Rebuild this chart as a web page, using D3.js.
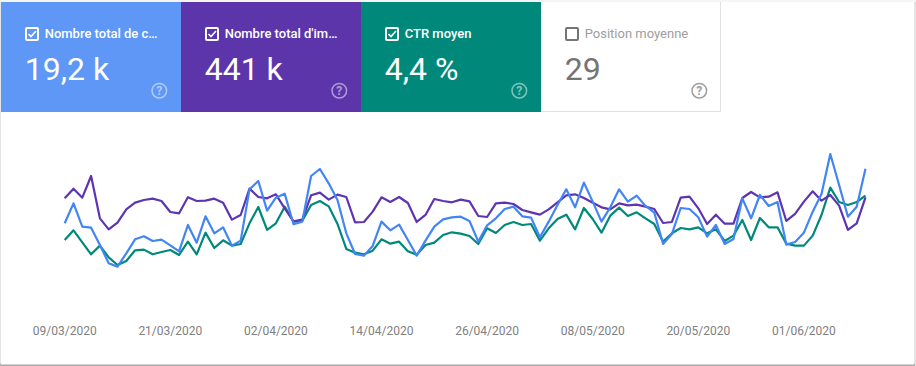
<!DOCTYPE html>
<html>
<head>
<meta charset="utf-8">
<script src="https://cdn.jsdelivr.net/npm/d3@7"></script>
<style>
  html, body { margin: 0; padding: 0; background: #f5f5f5; overflow: hidden; }
  svg { display: block; font-family: Roboto, sans-serif; }
</style>
</head>
<body>
<svg id="chart" width="916" height="366"></svg>
<script>
// Scorecards
const tileLabels = ['Nombre total de c…', "Nombre total d'im…", 'CTR moyen', 'Position moyenne'];
const tileValues = ['19,2 k', '441 k', '4,4 %', '29'];
const tileColors = ['#5e97f6', '#5c35ab', '#00897b', '#fff'];
const tileActive = [true, true, true, false];

// The source has no y axis, so values are relative heights read off the picture
const clicks = [180, 240, 170, 167, 115, 60, 50, 90, 132, 141, 127, 131, 114, 96, 175, 122, 201, 150, 168, 113, 128, 282, 307, 218,
  257, 269, 177, 185, 322, 343, 300, 250, 150, 88, 83, 112, 185, 159, 176, 130, 83, 128, 170, 192, 198, 200, 187, 125,
  174, 195, 223, 230, 201, 197, 138, 185, 235, 282, 228, 302, 245, 185, 228, 282, 245, 263, 232, 212, 118, 148,
  226, 223, 198, 140, 175, 118, 133, 255, 195, 265, 232, 244, 116, 124, 152, 215, 268, 388, 295, 200, 230, 344];
const impressions = [255, 284, 257, 322, 195, 162, 182, 222, 242, 250, 254, 247, 214, 210, 258, 247, 248, 254, 242, 191, 205, 284, 259, 255,
  267, 225, 186, 191, 264, 272, 251, 266, 259, 183, 184, 215, 258, 244, 259, 241, 184, 205, 253, 247, 243, 251, 246, 202,
  199, 240, 242, 238, 220, 213, 206, 222, 243, 264, 267, 256, 242, 228, 222, 240, 234, 236, 230, 223, 181, 184,
  257, 260, 225, 178, 206, 179, 179, 256, 274, 258, 260, 273, 187, 208, 245, 276, 248, 265, 233, 160, 180, 258];
const ctr = [130, 159, 123, 87, 113, 78, 55, 67, 99, 101, 87, 94, 100, 85, 125, 87, 152, 106, 129, 113, 118, 180, 229, 160,
  180, 230, 185, 188, 235, 247, 231, 178, 103, 92, 87, 98, 132, 119, 125, 96, 86, 115, 122, 145, 153, 149, 142, 118,
  165, 151, 175, 184, 175, 178, 128, 165, 193, 206, 162, 226, 193, 152, 203, 227, 202, 213, 195, 178, 125, 150,
  166, 162, 168, 150, 162, 127, 143, 190, 130, 196, 168, 168, 119, 113, 113, 143, 205, 287, 244, 235, 244, 263];

const tickLabels = ['09/03/2020', '21/03/2020', '02/04/2020', '14/04/2020', '26/04/2020', '08/05/2020', '20/05/2020', '01/06/2020'];
const firstDay = '09/03/2020';
const lastDay = '08/06/2020';

const parseDay = d3.utcParse('%d/%m/%Y');
const formatDay = d3.utcFormat('%d/%m/%Y');

const svg = d3.select('#chart');

// Card with its soft shadow: light on the sides, darker along the bottom
svg.append('rect')
  .attr('x', 0).attr('y', 2).attr('width', 916).attr('height', 364)
  .attr('fill', '#e4e4e4');
svg.append('rect')
  .attr('x', 0).attr('y', 363).attr('width', 915).attr('height', 3)
  .attr('rx', 1.5)
  .attr('fill', '#a8a8a8');
svg.append('rect')
  .attr('x', 1).attr('y', 2).attr('width', 913).attr('height', 362.5)
  .attr('fill', '#fff');

// Tiles
const tileX = d3.scaleBand().domain(d3.range(tileLabels.length)).range([1, 721]);
const tiles = svg.selectAll('g.tile')
  .data(tileLabels)
  .enter()
  .append('g')
  .attr('class', 'tile')
  .attr('transform', (d, i) => `translate(${tileX(i)}, 2)`);

tiles.append('rect')
  .attr('width', tileX.bandwidth())
  .attr('height', 110)
  .attr('fill', (d, i) => tileColors[i]);

// Inactive tile only gets a thin border on the right and bottom
tiles.filter((d, i) => !tileActive[i]).append('path')
  .attr('d', `M${tileX.bandwidth() - 0.5},0V109.5H0`)
  .attr('fill', 'none')
  .attr('stroke', '#e0e0e0');

const fg = i => tileActive[i] ? '#fff' : '#757575';

tiles.append('rect')
  .attr('x', 25).attr('y', 26)
  .attr('width', 12).attr('height', 12)
  .attr('rx', 1)
  .attr('fill', 'none')
  .attr('stroke', (d, i) => fg(i))
  .attr('stroke-width', 2);

tiles.filter((d, i) => tileActive[i]).append('path')
  .attr('d', 'M27.5,32l2.5,2.5l5,-5.5')
  .attr('fill', 'none')
  .attr('stroke', '#fff')
  .attr('stroke-width', 1.6);

tiles.append('text')
  .attr('x', 43.7).attr('y', 36)
  .attr('font-size', 13)
  .attr('font-weight', (d, i) => tileActive[i] ? 500 : 400)
  .attr('fill', (d, i) => tileActive[i] ? '#fff' : '#9e9e9e')
  .text(d => d);

tiles.append('text')
  .attr('x', 23.7).attr('y', 78)
  .attr('font-size', 32)
  .attr('fill', (d, i) => fg(i))
  .text((d, i) => tileValues[i]);

tiles.append('circle')
  .attr('cx', 158.3).attr('cy', 88.7)
  .attr('r', 7.3)
  .attr('fill', 'none')
  .attr('stroke', (d, i) => fg(i))
  .attr('stroke-width', 1.5)
  .attr('opacity', (d, i) => tileActive[i] ? 0.5 : 0.7);

tiles.append('text')
  .attr('x', 158.3).attr('y', 93)
  .attr('text-anchor', 'middle')
  .attr('font-size', 12)
  .attr('font-weight', 700)
  .attr('fill', (d, i) => fg(i))
  .attr('opacity', (d, i) => tileActive[i] ? 0.5 : 0.7)
  .text('?');

// Scales
const x = d3.scaleUtc()
  .domain([parseDay(firstDay), parseDay(lastDay)])
  .range([64.7, 865.5]);
const y = d3.scaleLinear().domain([0, 400]).range([283.3, 150]);

const line = d3.line()
  .x((d, i) => x(d3.utcDay.offset(parseDay(firstDay), i)))
  .y(d => y(d));

const series = [
  { values: ctr, color: '#00897b' },
  { values: impressions, color: '#5e35b1' },
  { values: clicks, color: '#4285f4' }
];

svg.append('g')
  .selectAll('path')
  .data(series)
  .enter()
  .append('path')
  .attr('d', d => line(d.values))
  .attr('fill', 'none')
  .attr('stroke', d => d.color)
  .attr('stroke-width', 2.2)
  .attr('stroke-linejoin', 'round');

// Date axis
const axis = d3.axisBottom(x)
  .tickValues(tickLabels.map(parseDay))
  .tickFormat(formatDay)
  .tickSize(0)
  .tickPadding(0);
const axisG = svg.append('g').attr('transform', 'translate(-0.5, 326)').call(axis);
axisG.select('.domain').remove();
axisG.selectAll('text')
  .style('font-family', 'Roboto, sans-serif')
  .style('font-size', '12px')
  .attr('fill', '#808080');
</script>
</body>
</html>
